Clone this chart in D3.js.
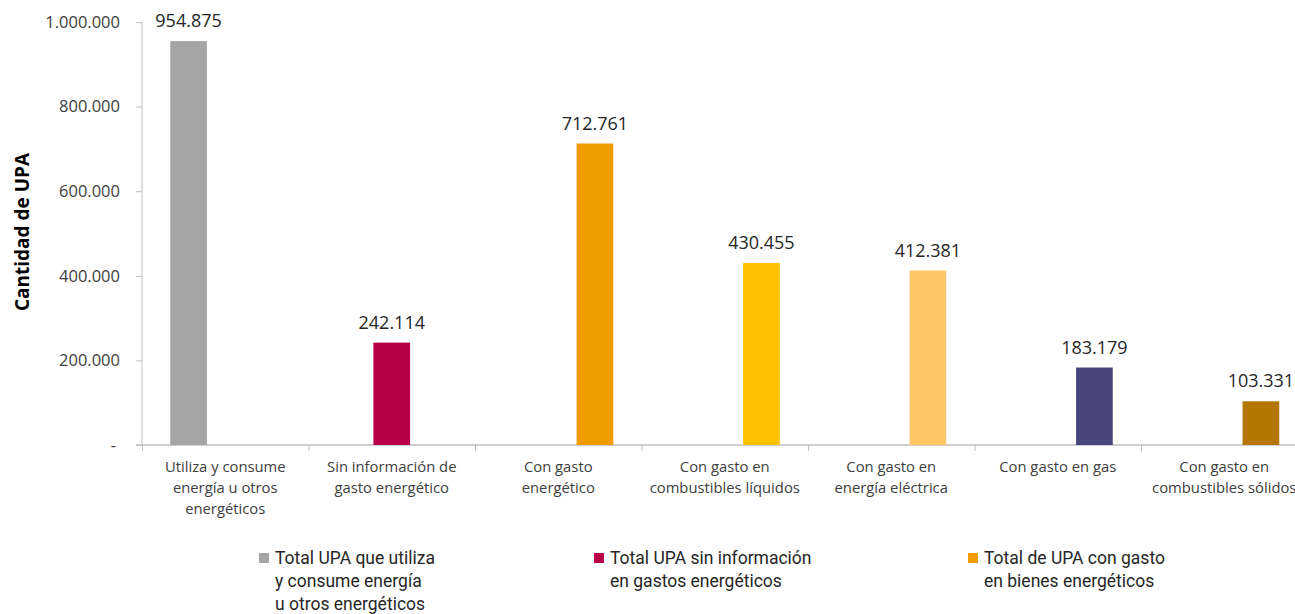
<!DOCTYPE html>
<html>
<head>
<meta charset="utf-8">
<script src="https://cdn.jsdelivr.net/npm/d3@7"></script>
<style>
  body { margin: 0; background: #fff; }
  text { font-family: "Open Sans", "Noto Sans", sans-serif; fill: #262626; }
  .legend text { font-family: "Roboto", sans-serif; }
</style>
</head>
<body>
<svg width="1295" height="614"></svg>
<script>
var categories = [
  ["Utiliza y consume", "energía u otros", "energéticos"],
  ["Sin información de", "gasto energético"],
  ["Con gasto", "energético"],
  ["Con gasto en", "combustibles líquidos"],
  ["Con gasto en", "energía eléctrica"],
  ["Con gasto en gas"],
  ["Con gasto en", "combustibles sólidos"]
];
var seriesNames = [
  ["Total UPA que utiliza", "y consume energía", "u otros energéticos"],
  ["Total UPA sin información", "en gastos energéticos"],
  ["Total de UPA con gasto", "en bienes energéticos"]
];
var seriesColors = ["#a5a5a5", "#b8004a", "#f09b00"];
// values per series, one slot per category (null = no bar)
var totalUso = [954875, null, null, null, null, null, null];
var sinInfo = [null, 242114, null, null, null, null, null];
var conGasto = [null, null, 712761, 430455, 412381, 183179, 103331];
var conGastoColors = [null, null, "#f09b00", "#ffc000", "#ffc766", "#46467c", "#b57600"];
var yTicks = [0, 200000, 400000, 600000, 800000, 1000000];

var svg = d3.select("svg"),
    margin = {top: 22, left: 142},
    step = 166.5;

var locale = d3.formatLocale({decimal: ",", thousands: ".", grouping: [3], currency: ["$", ""]});
var fmt = locale.format(",");

var idx = d3.range(categories.length);
var x = d3.scaleBand().domain(idx).range([margin.left, margin.left + step * categories.length]);
var xs = d3.scaleBand().domain([0, 1, 2]).range([0, x.bandwidth()]).paddingOuter(0.77);
var y = d3.scaleLinear().domain([0, 1000000]).range([445, margin.top]);

var allSeries = [totalUso, sinInfo, conGasto];
var bars = [];
allSeries.forEach(function(s, si) {
  s.forEach(function(v, ci) {
    if (v != null) bars.push({s: si, c: ci, v: v,
      color: si == 2 ? conGastoColors[ci] : seriesColors[si]});
  });
});

// y axis
var yAxis = svg.append("g")
    .attr("transform", "translate(" + margin.left + ",0)")
    .call(d3.axisLeft(y).tickValues(yTicks).tickSize(6).tickPadding(16)
      .tickFormat(function(d) { return d === 0 ? "-" : fmt(d); }));
yAxis.select(".domain").attr("stroke", "#bfbfbf").attr("d", "M0," + y(1000000) + "V" + y(0));
yAxis.selectAll(".tick line").attr("stroke", "#bfbfbf");
yAxis.selectAll("text").style("font-size", "16.5px").style("fill", "#404040");
yAxis.selectAll(".tick").filter(function(d) { return d === 0; }).select("text").attr("dx", -4);

// x axis
var xg = svg.append("g");
xg.append("line")
    .attr("x1", margin.left - 6).attr("x2", 1295)
    .attr("y1", y(0)).attr("y2", y(0))
    .attr("stroke", "#bfbfbf").attr("stroke-width", 1.5);
xg.selectAll(".xt")
  .data(idx)
  .enter().append("line")
    .attr("x1", function(d) { return x(d) + 0.5; })
    .attr("x2", function(d) { return x(d) + 0.5; })
    .attr("y1", y(0)).attr("y2", y(0) + 6)
    .attr("stroke", "#bfbfbf");

xg.selectAll(".cat")
  .data(idx)
  .enter().append("text")
    .attr("text-anchor", "middle")
    .style("font-size", "14.8px")
    .style("fill", "#404040")
    .each(function(d) {
      var t = d3.select(this);
      categories[d].forEach(function(line, i) {
        t.append("tspan")
          .attr("x", x(d) + x.bandwidth() / 2)
          .attr("y", 472 + i * 21)
          .text(line);
      });
    });

// bars
svg.selectAll(".bar")
  .data(bars)
  .enter().append("rect")
    .attr("class", "bar")
    .attr("x", function(d) { return x(d.c) + xs(d.s); })
    .attr("y", function(d) { return y(d.v); })
    .attr("width", xs.bandwidth())
    .attr("height", function(d) { return y(0) - y(d.v); })
    .attr("fill", function(d) { return d.color; });

svg.selectAll(".lbl")
  .data(bars)
  .enter().append("text")
    .attr("x", function(d) { return x(d.c) + xs(d.s) + xs.bandwidth() / 2; })
    .attr("y", function(d) { return y(d.v) - 14; })
    .attr("text-anchor", "middle")
    .style("font-size", "18px")
    .text(function(d) { return fmt(d.v); });

// y title
svg.append("text")
    .attr("transform", "translate(29,232) rotate(-90)")
    .attr("text-anchor", "middle")
    .style("font-size", "19px")
    .style("font-weight", "bold")
    .style("fill", "#000")
    .text("Cantidad de UPA");

// legend
var legX = [259, 594, 968];
var leg = svg.append("g").attr("class", "legend")
  .selectAll("g")
  .data(seriesNames)
  .enter().append("g")
    .attr("transform", function(d, i) { return "translate(" + legX[i] + ",553)"; });
leg.append("rect")
    .attr("width", 10).attr("height", 10)
    .attr("fill", function(d, i) { return seriesColors[i]; });
leg.append("text")
    .style("font-size", "17.5px")
    .each(function(d) {
      var t = d3.select(this);
      d.forEach(function(line, i) {
        t.append("tspan").attr("x", 16).attr("y", 11 + i * 23).text(line);
      });
    });
</script>
</body>
</html>
